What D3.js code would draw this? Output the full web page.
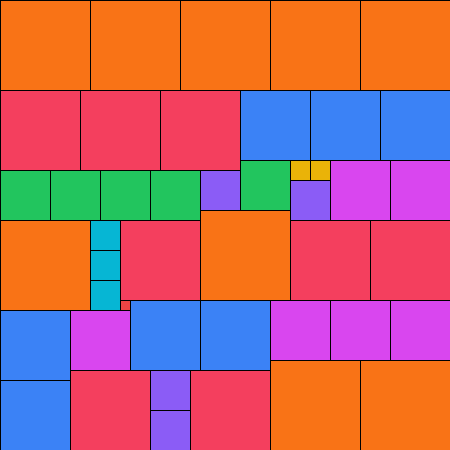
<!DOCTYPE html>
<html>
<head>
<meta charset="utf-8">
<script src="https://cdn.jsdelivr.net/npm/d3@7"></script>
<style>
  body { margin: 0; background: #fff; }
  svg { display: block; }
</style>
</head>
<body>
<div id="chart"></div>
<script>
// squares, in grid units of 10px: side, column, row
const sides = [9, 9, 9, 9, 9, 8, 8, 8, 7, 7, 7, 5, 5, 5, 5, 4, 5, 2, 2, 4, 6, 6,
               9, 3, 3, 3, 8, 9, 8, 8, 1, 7, 7, 6, 7, 7, 6, 6, 6, 8, 4, 4, 8, 9, 9];
const cols  = [0, 9, 18, 27, 36, 0, 8, 16, 24, 31, 38, 0, 5, 10, 15, 20, 24, 29, 31, 29, 33, 39,
               0, 9, 9, 9, 12, 20, 29, 37, 12, 0, 0, 7, 13, 20, 27, 33, 39, 7, 15, 15, 19, 27, 36];
const rows  = [0, 0, 0, 0, 0, 9, 9, 9, 9, 9, 9, 17, 17, 17, 17, 17, 16, 16, 16, 18, 16, 16,
               22, 22, 25, 28, 22, 21, 22, 22, 30, 31, 38, 31, 30, 30, 30, 30, 30, 37, 37, 41, 37, 36, 36];

const sizeKeys = [9, 8, 7, 6, 5, 4, 3, 2, 1];
const sizeColors = ["#f97316", "#f43f5e", "#3b82f6", "#d946ef", "#22c55e",
                    "#8b5cf6", "#06b6d4", "#eab308", "#ef4444"];

const width = 450, height = 450;

const svg = d3.select("#chart").append("svg")
    .attr("width", width)
    .attr("height", height);

const x = d3.scaleLinear().domain([0, 45]).range([0, width]);
const y = d3.scaleLinear().domain([0, 45]).range([0, height]);
const color = d3.scaleOrdinal().domain(sizeKeys).range(sizeColors);

const squares = sides.map((s, i) => ({side: s, col: cols[i], row: rows[i]}));

svg.selectAll("rect")
    .data(squares)
    .enter()
    .append("rect")
    .attr("x", d => x(d.col))
    .attr("y", d => y(d.row))
    .attr("width", d => x(d.col + d.side) - x(d.col))
    .attr("height", d => y(d.row + d.side) - y(d.row))
    .attr("fill", d => color(d.side))
    .attr("stroke", "#000")
    .attr("stroke-width", 1)
    .attr("shape-rendering", "crispEdges");
</script>
</body>
</html>
